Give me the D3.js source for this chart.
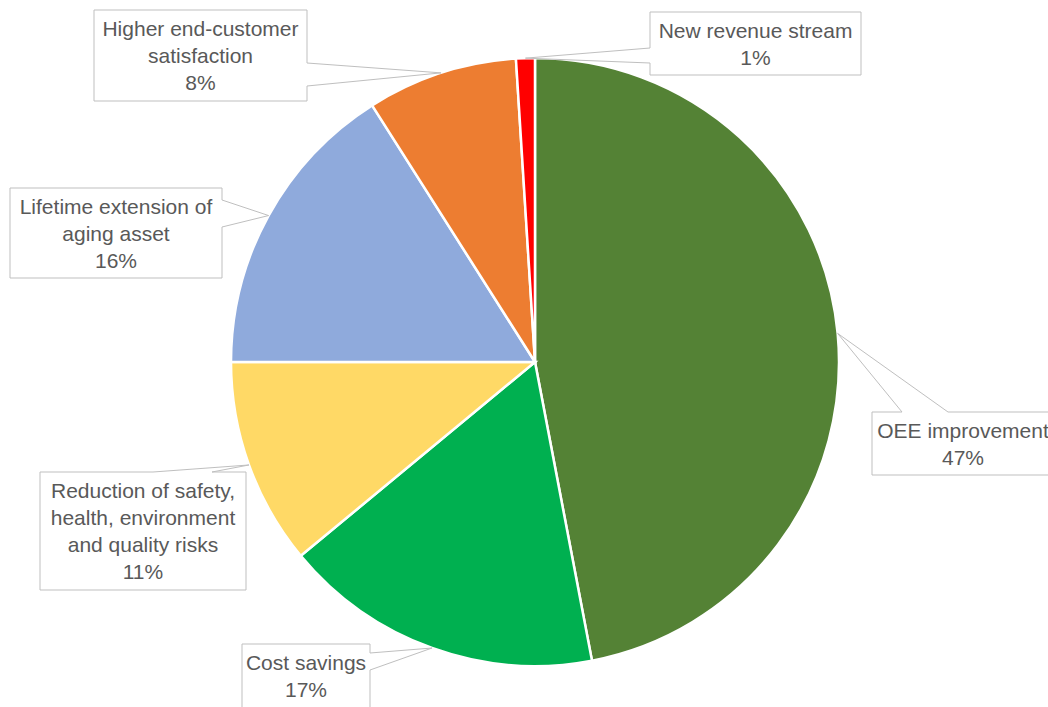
<!DOCTYPE html>
<html lang="en">
<head>
<meta charset="utf-8">
<title>Pie</title>
<script src="https://cdn.jsdelivr.net/npm/d3@7"></script>
<style>
  body { margin: 0; background: #fff; }
  text { font-family: "Liberation Sans", Arial, sans-serif; font-size: 21px; fill: #595959; }
</style>
</head>
<body>
<script>
var w = 1048, h = 707;

// data, clockwise from 12 o'clock
var categories = ["OEE improvement", "Cost savings",
  "Reduction of safety, health, environment and quality risks",
  "Lifetime extension of aging asset", "Higher end-customer satisfaction",
  "New revenue stream"];
var values = [47, 17, 11, 16, 8, 1];
var colors = ["#548235", "#00b050", "#ffd966", "#8faadc", "#ed7d31", "#ff0000"];
var labelLines = [
  ["OEE improvement"],
  ["Cost savings"],
  ["Reduction of safety,", "health, environment", "and quality risks"],
  ["Lifetime extension of", "aging asset"],
  ["Higher end-customer", "satisfaction"],
  ["New revenue stream"]
];

// callout boxes: x, y, width, height, side of pointer, pointer base (two positions on that side)
var boxes = [
  {x: 872, y: 412, w: 182, h: 63, side: "top", a: 902, b: 948},
  {x: 242, y: 644, w: 128, h: 70, side: "right", a: 653, b: 670},
  {x: 40, y: 472, w: 206, h: 118, side: "top", a: 153, b: 212},
  {x: 10, y: 188, w: 212, h: 90, side: "right", a: 200, b: 227},
  {x: 94, y: 10, w: 213, h: 91, side: "right", a: 63, b: 86},
  {x: 650, y: 12, w: 211, h: 63, side: "left", a: 48, b: 63}
];

var cx = 535, cy = 362, r = 304;

var svg = d3.select("body").append("svg")
  .attr("width", w).attr("height", h);

var pie = d3.pie().sort(null).value(function(d) { return d; });
var arcs = pie(values);
var arc = d3.arc().innerRadius(0).outerRadius(r);
var edge = d3.arc().innerRadius(r).outerRadius(r);

var g = svg.append("g").attr("transform", "translate(" + cx + "," + cy + ")");

g.selectAll("path.slice")
  .data(arcs)
  .enter()
  .append("path")
  .attr("class", "slice")
  .attr("d", arc)
  .attr("fill", function(d, i) { return colors[i]; })
  .attr("stroke", "#fff")
  .attr("stroke-width", 2.5);

//// callouts
var total = d3.sum(values);
function calloutPath(b, tip) {
  var p = [[b.x, b.y]];
  if (b.side == "top") p.push([b.a, b.y], tip, [b.b, b.y]);
  p.push([b.x + b.w, b.y]);
  if (b.side == "right") p.push([b.x + b.w, b.a], tip, [b.x + b.w, b.b]);
  p.push([b.x + b.w, b.y + b.h]);
  p.push([b.x, b.y + b.h]);
  if (b.side == "left") p.push([b.x, b.b], tip, [b.x, b.a]);
  return "M" + p.map(function(q) { return q[0] + "," + q[1]; }).join("L") + "Z";
}

arcs.forEach(function(d, i) {
  var b = boxes[i];
  var c = edge.centroid(d);
  var tip = [cx + c[0], cy + c[1]];
  svg.append("path")
    .attr("d", calloutPath(b, tip))
    .attr("fill", "#fff")
    .attr("stroke", "#bfbfbf")
    .attr("stroke-width", 1);
  var lines = labelLines[i].concat([Math.round(values[i] / total * 100) + "%"]);
  svg.selectAll(null)
    .data(lines)
    .enter()
    .append("text")
    .attr("x", b.x + b.w / 2)
    .attr("y", function(t, j) { return b.y + 26 + j * 27; })
    .attr("text-anchor", "middle")
    .text(function(t) { return t; });
});
</script>
</body>
</html>
